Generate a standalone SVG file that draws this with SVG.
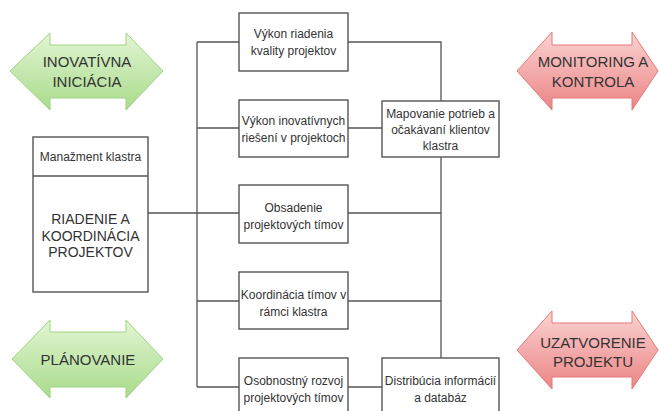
<svg xmlns="http://www.w3.org/2000/svg" width="659" height="411" viewBox="0 0 659 411">
<defs>
<linearGradient id="gg" x1="0" y1="0" x2="0" y2="1">
<stop offset="0" stop-color="#e2f5d3"/><stop offset="1" stop-color="#a9db8c"/>
</linearGradient>
<linearGradient id="rg" x1="0" y1="0" x2="0" y2="1">
<stop offset="0" stop-color="#fbd3d3"/><stop offset="1" stop-color="#ec8484"/>
</linearGradient>
<style>
.box{fill:#fff;stroke:#555;stroke-width:1.4}
.ln{fill:none;stroke:#555;stroke-width:1.3}
.t{font-family:"Liberation Sans",Arial,sans-serif;font-size:12px;fill:#333;text-anchor:middle}
.tb{font-family:"Liberation Sans",Arial,sans-serif;font-size:14px;fill:#333;text-anchor:middle}
.ta{font-family:"Liberation Sans",Arial,sans-serif;font-size:15px;fill:#333;text-anchor:middle}
.ga{fill:url(#gg);stroke:#9fd382;stroke-width:1}
.ra{fill:url(#rg);stroke:#e57878;stroke-width:1}
</style>
</defs>
<rect width="659" height="411" fill="#fff"/>
<g id="connectors">
<path class="ln" d="M197 42V387M148 213H239M197 42H239M197 128H239M197 301H239M197 387H239"/>
<path class="ln" d="M348 42H441V101M348 128H382M441 157V358M348 213H441M348 301H441M348 387H382"/>
</g>
<g id="arrow-inovativna">
<polygon class="ga" points="10,71 50,33 50,45 126,45 126,33 163,71 126,110 126,98 50,98 50,110"/>
<text class="ta" x="87" y="67">INOVATÍVNA</text><text class="ta" x="87" y="87">INICIÁCIA</text>
</g>
<g id="arrow-monitoring">
<polygon class="ra" points="517,71 552,32 552,45 632,45 632,32 658,71 632,110 632,98 552,98 552,110"/>
<text class="ta" x="593" y="67">MONITORING A</text><text class="ta" x="593" y="87">KONTROLA</text>
</g>
<g id="arrow-planovanie">
<polygon class="ga" points="12,359 50,320 50,332 126,332 126,320 163,359 126,398 126,387 50,387 50,398"/>
<text class="ta" x="88" y="365">PLÁNOVANIE</text>
</g>
<g id="arrow-uzatvorenie">
<polygon class="ra" points="517,350 552,311 552,323 632,323 632,311 658,350 632,389 632,377 552,377 552,389"/>
<text class="ta" x="593" y="348">UZATVORENIE</text><text class="ta" x="593" y="367">PROJEKTU</text>
</g>
<g id="manazment">
<rect class="box" x="33" y="137" width="115" height="155"/>
<line class="ln" x1="33" y1="176" x2="148" y2="176"/>
<text class="t" x="90.5" y="161">Manažment klastra</text>
<text class="tb" x="90.5" y="224">RIADENIE A</text>
<text class="tb" x="90.5" y="241">KOORDINÁCIA</text>
<text class="tb" x="90.5" y="257">PROJEKTOV</text>
</g>
<g id="vykon-riadenia">
<rect class="box" x="239" y="13" width="109" height="58"/>
<text class="t" x="293.5" y="38">Výkon riadenia</text><text class="t" x="293.5" y="55">kvality projektov</text>
</g>
<g id="vykon-inovativnych">
<rect class="box" x="239" y="100" width="109" height="57"/>
<text class="t" x="293.5" y="125">Výkon inovatívnych</text><text class="t" x="293.5" y="142">riešení v projektoch</text>
</g>
<g id="obsadenie">
<rect class="box" x="239" y="185" width="109" height="58"/>
<text class="t" x="293.5" y="212">Obsadenie</text><text class="t" x="293.5" y="229">projektových tímov</text>
</g>
<g id="koordinacia">
<rect class="box" x="239" y="272" width="109" height="57"/>
<text class="t" x="293.5" y="299">Koordinácia tímov v</text><text class="t" x="293.5" y="316">rámci klastra</text>
</g>
<g id="osobnostny">
<rect class="box" x="239" y="358" width="109" height="60"/>
<text class="t" x="293.5" y="385">Osobnostný rozvoj</text><text class="t" x="293.5" y="402">projektových tímov</text>
</g>
<g id="mapovanie">
<rect class="box" x="382" y="101" width="117" height="56"/>
<text class="t" x="440.5" y="118">Mapovanie potrieb a</text><text class="t" x="440.5" y="134">očakávaní klientov</text><text class="t" x="440.5" y="150">klastra</text>
</g>
<g id="distribucia">
<rect class="box" x="382" y="358" width="117" height="60"/>
<text class="t" x="440.5" y="385">Distribúcia informácií</text><text class="t" x="440.5" y="402">a databáz</text>
</g>
</svg>
